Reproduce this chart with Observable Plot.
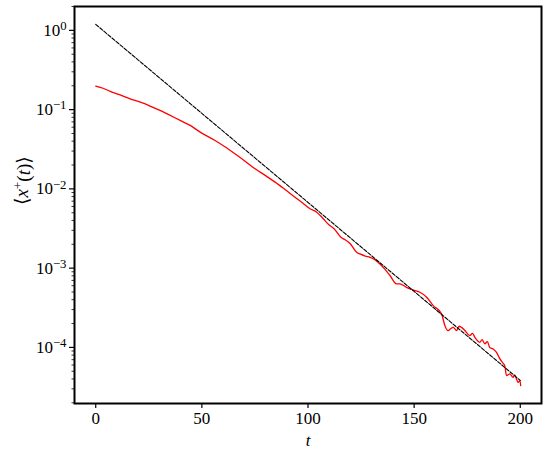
<!DOCTYPE html>
<html>
<head>
<meta charset="utf-8">
<script src="https://cdn.jsdelivr.net/npm/d3@7"></script>
<script src="https://cdn.jsdelivr.net/npm/@observablehq/plot@0.6"></script>
<style>
  html, body { margin: 0; padding: 0; background: #fff; }
  #chart svg { display: block; }
</style>
</head>
<body>
<div id="chart"></div>
<script>
// Red curve: <x+(t)> measured
const redT = [0, 3.5, 6.8, 11.5, 16.2, 21, 25.6, 30.5, 35.1, 40, 44.5, 49.2, 56.2, 60.5, 65.6, 70.5, 75.1, 80, 84.5, 89, 93.9, 97.5, 101, 104.1, 106, 108, 110, 112.2, 115.5, 117.5, 119.8, 122.9, 124.5, 127, 129.2, 131.5, 133.9, 136.5, 138.6, 141.7, 143.3, 146, 148, 150.5, 152.7, 155.9, 159, 162.9, 164.5, 166, 167.2, 168.4, 170, 171.2, 172.3, 173.9, 176.2, 177.5, 178.6, 180.9, 182, 183.3, 184.5, 185.6, 187.2, 188.8, 190.4, 191.5, 192.7, 193.5, 195.1, 196.6, 197.4, 198.2, 199, 199.8, 200.2];
const redY = [0.198, 0.186, 0.170, 0.153, 0.137, 0.124, 0.111, 0.097, 0.0845, 0.0725, 0.0632, 0.052, 0.0408, 0.0345, 0.0277, 0.0222, 0.0179, 0.0147, 0.01216, 0.0099, 0.00786, 0.00665, 0.00561, 0.00508, 0.00455, 0.00398, 0.0035, 0.00316, 0.00245, 0.00228, 0.00205, 0.00159, 0.00151, 0.00142, 0.00137, 0.00128, 0.00113, 0.00095, 0.000807, 0.000634, 0.000634, 0.00058, 0.000548, 0.00052, 0.000497, 0.00043, 0.000337, 0.000265, 0.000188, 0.000163, 0.000172, 0.000179, 0.000163, 0.000185, 0.000179, 0.000163, 0.000141, 0.000150, 0.000134, 0.000116, 0.000125, 0.000111, 0.000118, 0.0001, 0.0000957, 0.0000867, 0.0000716, 0.0000650, 0.0000589, 0.0000441, 0.0000463, 0.0000419, 0.0000450, 0.0000400, 0.0000362, 0.0000381, 0.0000330];
// Black dashed reference line (straight on log axis)
const fitT = [0, 200];
const fitY = [1.19, 0.0000383];
// Axis ticks
const xTicks = [0, 50, 100, 150, 200];
const yTicks = [1, 0.1, 0.01, 0.001, 0.0001];
const yExp = ["0", "−1", "−2", "−3", "−4"];
const xLabel = "t";
const yLabel = "⟨x⁺(t)⟩";

const SERIF = "'Liberation Serif', 'Times New Roman', 'DejaVu Serif', serif";
const red = redT.map((t, i) => ({t, y: redY[i]}));
const fit = fitT.map((t, i) => ({t, y: fitY[i]}));
const yMinor = [];
for (let e = -5; e <= 0; e++) for (let m = 2; m <= 9; m++) {
  const v = m * Math.pow(10, e);
  if (v >= 1.96e-5 && v <= 2.0) yMinor.push(v);
}

const chart = Plot.plot({
  width: 550,
  height: 449,
  marginLeft: 74,
  marginRight: 9,
  marginTop: 6,
  marginBottom: 46,
  style: {fontFamily: SERIF, fontSize: "17px", color: "#000", background: "#fff"},
  x: {domain: [-10, 210]},
  y: {type: "log", domain: [1.96e-5, 2.0]},
  marks: [
    Plot.axisX({ticks: xTicks, tickSize: 5, tickPadding: 3, label: null, tickFormat: d => String(d), strokeWidth: 1.2, fontSize: 17}),
    Plot.axisY({ticks: yMinor, tickSize: 2.5, tickFormat: null, text: null, label: null, strokeWidth: 0.8}),
    Plot.axisY({ticks: yTicks, tickSize: 5, tickPadding: 3, label: null, tickFormat: (d, i) => "10^" + yExp[yTicks.indexOf(d)], strokeWidth: 1.2, fontSize: 17}),
    Plot.line(red, {x: "t", y: "y", stroke: "#ff0000", strokeWidth: 1.3, curve: "monotone-x"}),
    Plot.line(fit, {x: "t", y: "y", stroke: "#000", strokeWidth: 1.1, strokeDasharray: "3.7,1.6"}),
    Plot.frame({stroke: "#000", strokeWidth: 2}),
    Plot.text([xLabel], {frameAnchor: "bottom", dy: 42, lineAnchor: "bottom", text: d => d, fontSize: 17, fontStyle: "italic"}),
    Plot.text([yLabel], {frameAnchor: "left", dx: -53, rotate: -90, text: d => d, fontSize: 19})
  ]
});

document.getElementById("chart").appendChild(chart);

// Render y tick labels as 10 with raised exponent
d3.select(chart).selectAll('g[aria-label="y-axis tick label"] text').each(function() {
  const s = d3.select(this);
  const txt = s.text();
  if (txt.indexOf("^") < 0) return;
  const [base, exp] = txt.split("^");
  s.text(null);
  s.append("tspan").text(base);
  s.append("tspan").attr("dy", "-0.45em").attr("font-size", "0.75em").text(exp);
});

// Italic variables in the y label
d3.select(chart).selectAll("text").each(function() {
  const s = d3.select(this);
  if (s.text() === yLabel) {
    s.text(null);
    s.append("tspan").text("⟨");
    s.append("tspan").attr("font-style", "italic").text("x");
    s.append("tspan").attr("dy", "-0.45em").attr("font-size", "0.7em").text("+");
    s.append("tspan").attr("dy", "0.45em").text("(");
    s.append("tspan").attr("font-style", "italic").text("t");
    s.append("tspan").text(")⟩");
  }
});

// Serif font on every text element
d3.select(chart).style("font-family", SERIF);
d3.select(chart).selectAll("text").style("font-family", SERIF);
</script>
</body>
</html>
